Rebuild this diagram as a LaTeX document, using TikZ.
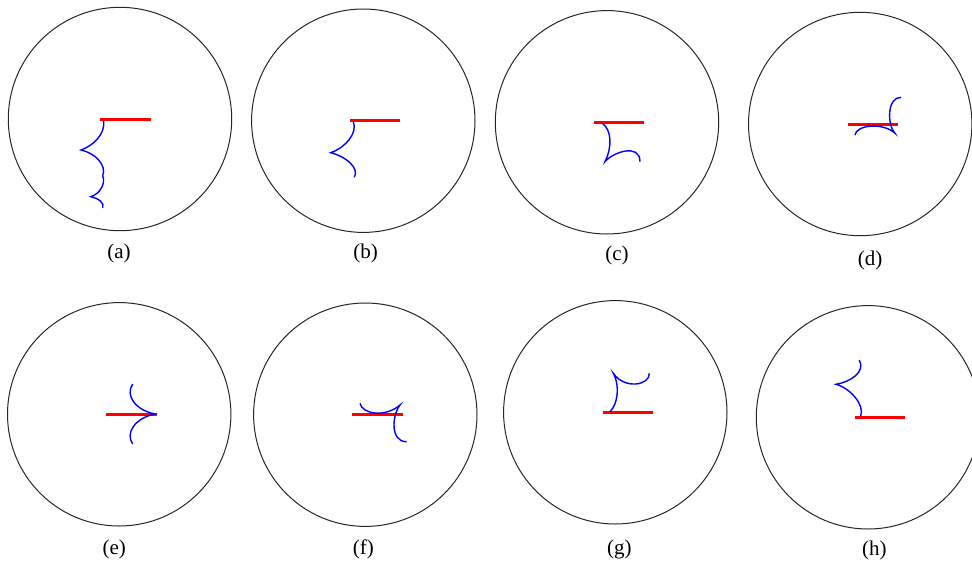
\documentclass[tikz,border=0pt]{standalone}
\usepackage{fontspec}
\setmainfont{Liberation Serif}
\begin{document}
\begin{tikzpicture}[x=1pt,y=-1pt,
  rim/.style={circle,draw=black!85,line width=1pt,minimum size=223.4pt,inner sep=0pt},
  bar/.style={draw=red,line width=3pt},
  trace/.style={draw=blue,line width=1.4pt},
  lbl/.style={font=\fontsize{21}{24}\selectfont,inner sep=0pt}]
\useasboundingbox (0,0) rectangle (972,568);
\clip (0,0) rectangle (972,568);
% circles
\node[rim] (ca) at (120,119) {};
\node[rim] (cb) at (363.3,120.7) {};
\node[rim] (cc) at (607,122.3) {};
\node[rim] (cd) at (860.2,124) {};
\node[rim] (ce) at (119.2,414.3) {};
\node[rim] (cf) at (365.3,414.7) {};
\node[rim] (cg) at (615.3,412.3) {};
\node[rim] (ch) at (868,417.3) {};
% labels
\node[lbl] (la) at (119,253.3) {(a)};
\node[lbl] (lb) at (365.7,253.3) {(b)};
\node[lbl] (lc) at (617,255) {(c)};
\node[lbl] (ld) at (870,260) {(d)};
\node[lbl] (le) at (114.3,549) {(e)};
\node[lbl] (lf) at (363.3,549) {(f)};
\node[lbl] (lg) at (619.3,549) {(g)};
\node[lbl] (lh) at (874.3,550.7) {(h)};
% red bars
\draw[bar] (100,119) -- (150.7,119);
\draw[bar] (350,120.7) -- (400,120.7);
\draw[bar] (594.3,122.3) -- (644.3,122.3);
\draw[bar] (847.7,124) -- (898.3,124);
\draw[bar] (106,414.3) -- (156.7,414.3);
\draw[bar] (352.3,414.7) -- (402.7,414.7);
\draw[bar] (602.7,412.3) -- (652.7,412.3);
\draw[bar] (855.3,417.3) -- (905.3,417.3);
% blue traces
\draw[trace] (103.5,120) .. controls (106,135) and (92,146) .. (81,150)
  .. controls (95,153) and (107,165) .. (102.7,176)
  .. controls (106,183) and (100,194) .. (90.7,196.7)
  .. controls (98,198) and (105,203) .. (102.7,208);
\draw[trace] (353.3,121.7) .. controls (358,133) and (345,148) .. (330.7,152.7)
  .. controls (345,156) and (360,168) .. (354.3,177.3);
\draw[trace] (602.3,123.3) .. controls (612,130) and (612,148) .. (605,161.7)
  .. controls (613,152) and (640,143) .. (640,161.7);
\draw[trace] (855,135) .. controls (856,125) and (883,122) .. (895,133.3)
  .. controls (887,125) and (887,97) .. (901,97.3);
\draw[trace] (132.7,384) .. controls (125,395) and (135,410) .. (155,414)
  .. controls (135,418) and (125,433) .. (132.7,444);
\draw[trace] (360,403.3) .. controls (362,414) and (385,418) .. (400,405)
  .. controls (392,415) and (390,442) .. (406.7,441.7);
\draw[trace] (610,411.7) .. controls (618,404) and (620,385) .. (613.3,373.3)
  .. controls (625,390) and (650,385) .. (649.3,373.3);
\draw[trace] (860.7,416) .. controls (865,405) and (850,388) .. (836,384.3)
  .. controls (850,382) and (866,372) .. (859.3,360);
\end{tikzpicture}
\end{document}
